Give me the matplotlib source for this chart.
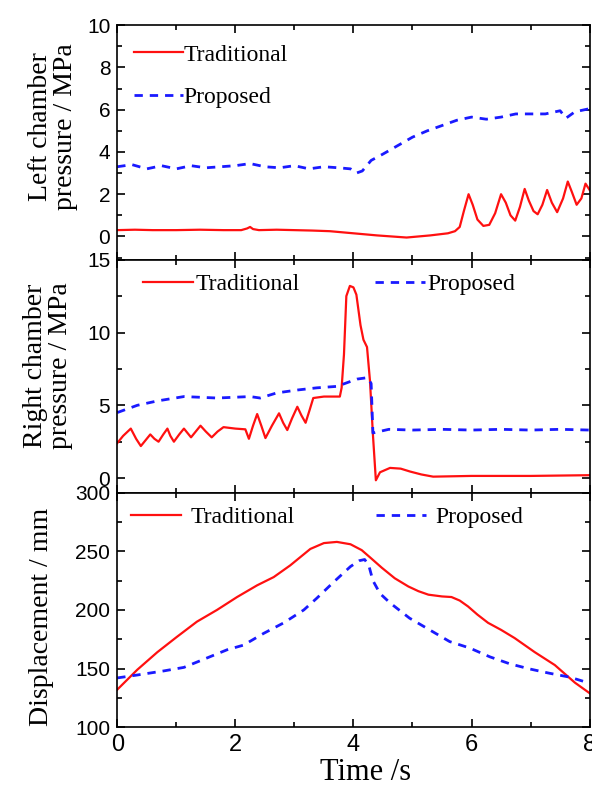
import matplotlib.pyplot as plt
import numpy as np
from matplotlib.ticker import MultipleLocator

# ---- data ----
# left chamber pressure (MPa)
t_lt = [0, 0.3, 0.6, 1.0, 1.4, 1.8, 2.1, 2.2, 2.25, 2.3, 2.4, 2.7, 3.0, 3.3, 3.6,
        4.0, 4.4, 4.9, 5.3, 5.6, 5.72, 5.8, 5.87, 5.95, 6.02, 6.1, 6.2, 6.3,
        6.4, 6.5, 6.58, 6.66, 6.74, 6.82, 6.9, 6.97, 7.05, 7.12, 7.2, 7.28,
        7.36, 7.45, 7.55, 7.63, 7.7, 7.78, 7.86, 7.93, 8.0]
p_lt = [0.3, 0.32, 0.3, 0.3, 0.32, 0.3, 0.3, 0.38, 0.45, 0.35, 0.3, 0.32, 0.3, 0.28, 0.25,
        0.15, 0.05, -0.05, 0.05, 0.15, 0.25, 0.45, 1.2, 2.0, 1.5, 0.8, 0.5, 0.55,
        1.1, 2.0, 1.6, 1.0, 0.75, 1.4, 2.25, 1.7, 1.2, 1.05, 1.5, 2.2,
        1.6, 1.15, 1.8, 2.6, 2.1, 1.5, 1.8, 2.5, 2.2]
t_lp = [0, 0.25, 0.5, 0.75, 1.0, 1.25, 1.5, 1.75, 2.0, 2.25, 2.5, 2.75, 3.0, 3.25,
        3.5, 3.75, 3.95, 4.05, 4.15, 4.3, 4.5, 4.75, 5.0, 5.25, 5.5, 5.75, 6.0,
        6.25, 6.5, 6.75, 7.0, 7.25, 7.5, 7.6, 7.75, 8.0]
p_lp = [3.3, 3.4, 3.2, 3.35, 3.2, 3.35, 3.25, 3.3, 3.35, 3.45, 3.3, 3.25, 3.35, 3.2,
        3.3, 3.25, 3.2, 3.0, 3.1, 3.6, 3.9, 4.3, 4.7, 5.0, 5.25, 5.5, 5.65,
        5.55, 5.65, 5.8, 5.8, 5.8, 5.95, 5.6, 5.9, 6.05]

# right chamber pressure (MPa)
t_rt = [0, 0.1, 0.23, 0.32, 0.4, 0.48, 0.56, 0.63, 0.7, 0.78, 0.85, 0.9, 0.96,
        1.05, 1.13, 1.19, 1.25, 1.33, 1.41, 1.5, 1.6, 1.7, 1.8, 2.0, 2.17, 2.23,
        2.3, 2.37, 2.44, 2.51, 2.62, 2.74, 2.81, 2.88, 2.96, 3.05, 3.12, 3.19,
        3.26, 3.32, 3.5, 3.77, 3.8, 3.84, 3.88, 3.94, 4.0, 4.05, 4.12, 4.17,
        4.23, 4.28, 4.33, 4.38, 4.45, 4.62, 4.8, 4.96, 5.15, 5.35, 6.0, 7.0, 8.0]
p_rt = [2.4, 2.9, 3.4, 2.7, 2.2, 2.6, 3.0, 2.7, 2.5, 3.0, 3.4, 2.9, 2.5,
        3.0, 3.4, 3.1, 2.8, 3.2, 3.6, 3.2, 2.8, 3.2, 3.5, 3.4, 3.35, 2.7,
        3.6, 4.4, 3.6, 2.75, 3.6, 4.45, 3.8, 3.3, 4.1, 4.9, 4.3, 3.8,
        4.7, 5.5, 5.6, 5.6, 6.2, 8.5, 12.5, 13.2, 13.1, 12.6, 10.5, 9.5,
        9.0, 6.7, 3.0, -0.15, 0.4, 0.7, 0.65, 0.45, 0.25, 0.1, 0.15, 0.15, 0.2]
t_rp = [0, 0.34, 0.68, 1.13, 1.69, 2.25, 2.42, 2.7, 3.05, 3.38, 3.72, 4.06,
        4.24, 4.3, 4.33, 4.6, 5.0, 5.5, 6.0, 6.5, 7.0, 7.5, 8.0]
p_rp = [4.5, 5.0, 5.3, 5.6, 5.5, 5.6, 5.5, 5.85, 6.05, 6.2, 6.3, 6.8,
        6.9, 6.5, 3.1, 3.35, 3.3, 3.35, 3.3, 3.35, 3.3, 3.35, 3.3]

# displacement (mm)
t_dt = [0, 0.34, 0.68, 1.01, 1.35, 1.69, 2.03, 2.37, 2.65, 2.93, 3.1, 3.27, 3.5,
        3.72, 3.95, 4.14, 4.3, 4.48, 4.7, 4.93, 5.1, 5.27, 5.5, 5.66, 5.8, 5.94,
        6.1, 6.28, 6.5, 6.73, 7.07, 7.41, 7.75, 8.0]
d_dt = [132, 149, 164, 177, 190, 200, 211, 221, 228, 238, 245, 252, 257,
        258, 256, 251, 244, 236, 227, 220, 216, 213, 211.5, 211, 208, 203,
        196, 189, 183, 176, 164, 153, 138, 129]
t_dp = [0, 0.34, 0.79, 1.13, 1.47, 1.86, 2.14, 2.48, 2.82, 3.16, 3.38, 3.67,
        3.95, 4.1, 4.19, 4.26, 4.33, 4.45, 4.62, 4.95, 5.29, 5.63, 5.97, 6.31,
        6.65, 6.99, 7.32, 7.66, 8.0]
d_dp = [142, 144.5, 148, 151, 158, 166, 170, 180, 189, 200, 210, 224,
        237, 242, 243, 238, 225, 214, 206, 193, 183, 173, 167.5, 160,
        154, 149.6, 146, 142.7, 137.5]

labels = ["Traditional", "Proposed"]
serif = "Liberation Serif"
sans = "Liberation Sans"

fig = plt.figure(figsize=(5.92, 7.87), dpi=100)
ax1 = fig.add_axes([0.198, 0.670, 0.798, 0.298])
ax2 = fig.add_axes([0.198, 0.374, 0.798, 0.296], sharex=ax1)
ax3 = fig.add_axes([0.198, 0.076, 0.798, 0.298], sharex=ax1)

red = dict(color="#ff1010", lw=1.6, solid_joinstyle="round")
blue = dict(color="#1a1aff", lw=2.0, linestyle=(0, (3, 2.5)))

ax1.plot(t_lt, p_lt, label=labels[0], **red)
ax1.plot(t_lp, p_lp, label=labels[1], **blue)
ax2.plot(t_rt, p_rt, label=labels[0], **red)
ax2.plot(t_rp, p_rp, label=labels[1], **blue)
ax3.plot(t_dt, d_dt, label=labels[0], **red)
ax3.plot(t_dp, d_dp, label=labels[1], **blue)

ax1.set_xlim(0, 8)
ax1.set_ylim(-1.1, 10)
ax2.set_ylim(-1, 15)
ax3.set_ylim(100, 300)

ax1.yaxis.set_major_locator(MultipleLocator(2))
ax1.yaxis.set_minor_locator(MultipleLocator(1))
ax2.yaxis.set_major_locator(MultipleLocator(5))
ax2.yaxis.set_minor_locator(MultipleLocator(2.5))
ax3.yaxis.set_major_locator(MultipleLocator(50))
ax3.yaxis.set_minor_locator(MultipleLocator(25))
ax3.xaxis.set_major_locator(MultipleLocator(2))
ax3.xaxis.set_minor_locator(MultipleLocator(1))

for ax in (ax1, ax2, ax3):
    ax.tick_params(which="both", direction="in", top=True, right=True, width=1.2)
    ax.tick_params(which="major", length=6)
    ax.tick_params(which="minor", length=3.5)
    ax.tick_params(axis="y", labelsize=15, pad=5)
    for lab in ax.get_yticklabels():
        lab.set_family(sans)
    for s in ax.spines.values():
        s.set_linewidth(1.2)
ax1.tick_params(axis="x", labelbottom=False)
ax2.tick_params(axis="x", labelbottom=False)
ax3.tick_params(axis="x", labelsize=17, pad=5)
for lab in ax3.get_xticklabels():
    lab.set_family(sans)

ax1.set_ylabel("Left chamber\npressure / MPa", family=serif, fontsize=20, linespacing=1.0)
ax1.yaxis.set_label_coords(-0.084, 0.566)
ax2.set_ylabel("Right chamber\npressure / MPa", family=serif, fontsize=20, linespacing=1.0)
ax2.yaxis.set_label_coords(-0.093, 0.545)
ax3.set_ylabel("Displacement / mm", family=serif, fontsize=20)
ax3.yaxis.set_label_coords(-0.133, 0.47)
ax3.set_xlabel("Time /s", family=serif, fontsize=22)
ax3.xaxis.set_label_coords(0.525, -0.13)

ax1.legend(loc="upper left", bbox_to_anchor=(0.0, 0.99), frameon=False,
           prop=dict(family=serif, size=17), handlelength=2.1, handletextpad=0.0,
           labelspacing=0.9, borderaxespad=0.3)
ax2.legend(loc="upper left", bbox_to_anchor=(0.02, 1.01), ncol=2, frameon=False,
           prop=dict(family=serif, size=17), handlelength=2.1, handletextpad=0.1,
           columnspacing=3.2, borderaxespad=0.3)
ax3.legend(loc="upper left", bbox_to_anchor=(-0.005, 1.01), ncol=2, frameon=False,
           prop=dict(family=serif, size=17), handlelength=2.1, handletextpad=0.4,
           columnspacing=3.45, borderaxespad=0.3)

plt.savefig("out.png", dpi=100)
